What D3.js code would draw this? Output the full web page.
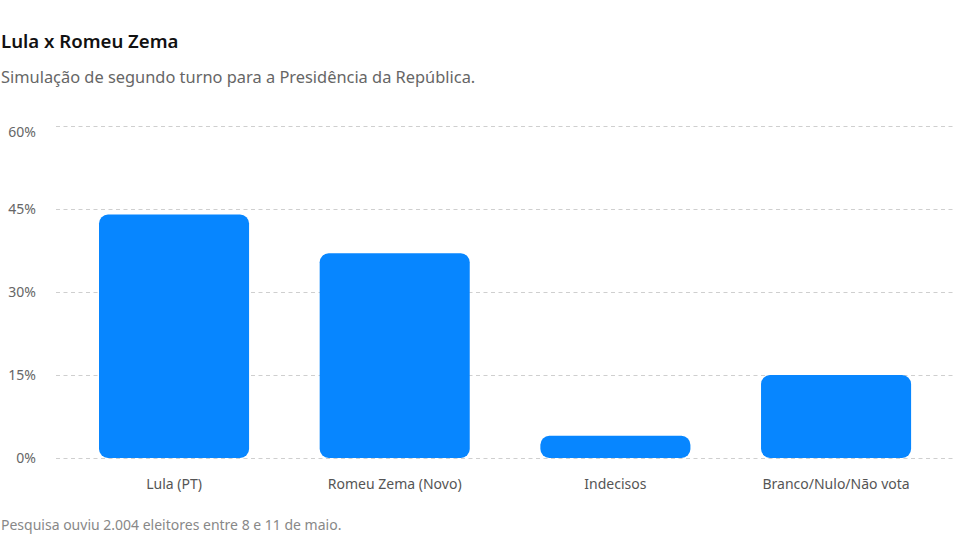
<!DOCTYPE html>
<html>
<head>
<meta charset="utf-8">
<script src="https://cdn.jsdelivr.net/npm/d3@7"></script>
<style>
  body { margin: 0; background: #fff; }
  svg text { font-family: "Noto Sans", "Open Sans", sans-serif; }
  .title { font-size: 18.6px; font-weight: 600; fill: #111; }
  .subtitle { font-size: 16.4px; fill: #666; }
  .y-axis .tick text { font-size: 14px; fill: #666; }
  .x-axis .tick text { font-size: 14px; fill: #555; }
  .footer { font-size: 14px; fill: #888; }
</style>
</head>
<body>
<svg width="960" height="540"></svg>
<script>
  var categories = ["Lula (PT)", "Romeu Zema (Novo)", "Indecisos", "Branco/Nulo/Não vota"];
  var values = [44, 37, 4, 15];
  var yTicks = [0, 15, 30, 45, 60];

  var svg = d3.select("svg");
  var margin = { top: 126, right: 7, left: 56, bottom: 82 };
  var width = +svg.attr("width");
  var height = +svg.attr("height");
  var innerWidth = width - margin.left - margin.right;
  var innerHeight = height - margin.top - margin.bottom;

  svg.append("text").attr("class", "title").attr("x", 1).attr("y", 48).text("Lula x Romeu Zema");
  svg.append("text").attr("class", "subtitle").attr("x", 1).attr("y", 83)
    .text("Simulação de segundo turno para a Presidência da República.");
  svg.append("text").attr("class", "footer").attr("x", 1).attr("y", 530)
    .text("Pesquisa ouviu 2.004 eleitores entre 8 e 11 de maio.");

  var g = svg.append("g")
    .attr("transform", "translate(" + margin.left + "," + margin.top + ")");

  var xScale = d3.scaleBand()
    .domain(categories)
    .range([7.7, innerWidth - 6.6])
    .paddingInner(0.32)
    .paddingOuter(0.16);

  var yScale = d3.scaleLinear()
    .domain([0, 60])
    .range([innerHeight, 0]);

  // grid + y labels
  var yAxis = d3.axisLeft(yScale)
    .tickValues(yTicks)
    .tickSize(-innerWidth)
    .tickPadding(20)
    .tickFormat(function (d) { return d + "%"; });

  var yAxisGroup = g.append("g").attr("class", "y-axis").call(yAxis);
  yAxisGroup.select(".domain").remove();
  yAxisGroup.selectAll(".tick line")
    .attr("stroke", "#cfcfcf")
    .attr("stroke-dasharray", "4,3.5");
  // top label sits a little below its line
  yAxisGroup.selectAll(".tick text")
    .attr("y", function (d) { return d === 60 ? 6 : 0; });

  // x labels
  var xAxis = d3.axisBottom(xScale).tickSize(0).tickPadding(21);
  var xAxisGroup = g.append("g")
    .attr("class", "x-axis")
    .attr("transform", "translate(0," + innerHeight + ")")
    .call(xAxis);
  xAxisGroup.select(".domain").remove();

  // bars
  g.selectAll("rect.bar")
    .data(values)
    .enter()
    .append("rect")
    .attr("class", "bar")
    .attr("x", function (d, i) { return xScale(categories[i]); })
    .attr("y", function (d) { return yScale(d); })
    .attr("width", xScale.bandwidth())
    .attr("height", function (d) { return innerHeight - yScale(d); })
    .attr("rx", function (d) { return Math.min(9, (innerHeight - yScale(d)) / 2); })
    .attr("fill", "#0786ff");
</script>
</body>
</html>
